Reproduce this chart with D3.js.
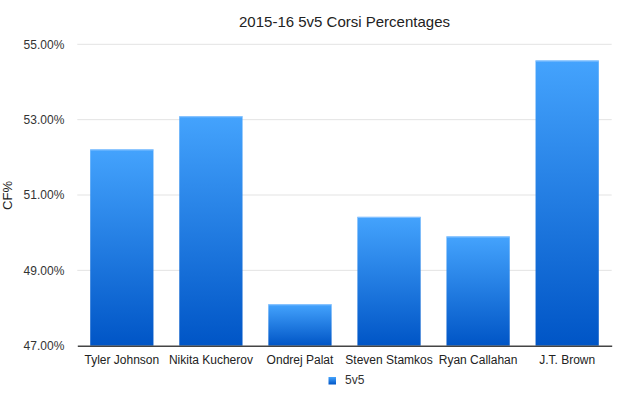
<!DOCTYPE html>
<html>
<head>
<meta charset="utf-8">
<script src="https://cdn.jsdelivr.net/npm/d3@7"></script>
<style>
  html, body { margin: 0; padding: 0; background: #fff; }
  svg { display: block; font-family: "Liberation Sans", Arial, Helvetica, sans-serif; }
</style>
</head>
<body>
<svg id="chart" width="640" height="405"></svg>
<script>
// data
const players = ['Tyler Johnson', 'Nikita Kucherov', 'Ondrej Palat', 'Steven Stamkos', 'Ryan Callahan', 'J.T. Brown'];
const cfPct = [52.21, 53.09, 48.10, 50.42, 49.90, 54.57];
const yTicks = [47, 49, 51, 53, 55];
const seriesName = '5v5';
const chartTitle = '2015-16 5v5 Corsi Percentages';
const yTitle = 'CF%';

const svg = d3.select('#chart');
const plotLeft = 77.3, plotRight = 611.7, plotTop = 44.3, plotBottom = 345.7;

const x = d3.scaleBand()
    .domain(players)
    .range([plotLeft, plotRight])
    .paddingInner(0.29)
    .paddingOuter(0.145);

const y = d3.scaleLinear()
    .domain([47, 55])
    .range([plotBottom, plotTop]);

// gradient for the bars, light at the top, dark at the base
const defs = svg.append('defs');
const grad = defs.append('linearGradient')
    .attr('id', 'barGrad')
    .attr('x1', 0).attr('y1', 0).attr('x2', 0).attr('y2', 1);
grad.append('stop').attr('offset', '0%').attr('stop-color', '#44a3fd');
grad.append('stop').attr('offset', '100%').attr('stop-color', '#0055c6');

// title
svg.append('text')
    .attr('x', (plotLeft + plotRight) / 2)
    .attr('y', 27)
    .attr('text-anchor', 'middle')
    .style('font-size', '15px')
    .style('fill', '#222')
    .text(chartTitle);

// grid lines
svg.append('g')
    .selectAll('line')
    .data(yTicks.filter(d => d !== 47))
    .join('line')
    .attr('x1', plotLeft).attr('x2', plotRight)
    .attr('y1', d => y(d)).attr('y2', d => y(d))
    .attr('stroke', '#e3e3e3')
    .attr('stroke-width', 1);

// y axis labels
const yAxis = d3.axisLeft(y)
    .tickValues(yTicks)
    .tickSize(0)
    .tickPadding(13)
    .tickFormat(d => d3.format('.2f')(d) + '%');

svg.append('g')
    .attr('transform', `translate(${plotLeft},0)`)
    .call(yAxis)
    .call(g => g.select('.domain').remove())
    .call(g => g.selectAll('text')
        .style('font-size', '12px')
        .style('font-family', '"Liberation Sans", Arial, sans-serif')
        .attr('fill', '#333'));

// y title
svg.append('text')
    .attr('transform', 'translate(11.5,195.5) rotate(-90)')
    .attr('text-anchor', 'middle')
    .style('font-size', '13px')
    .style('fill', '#222')
    .text(yTitle);

// bars
const bars = svg.append('g');
bars.selectAll('rect')
    .data(cfPct)
    .join('rect')
    .attr('x', (d, i) => x(players[i]))
    .attr('y', d => y(d))
    .attr('width', x.bandwidth())
    .attr('height', d => y(47) - y(d))
    .attr('fill', 'url(#barGrad)');

// faint highlight at the top of each bar
bars.selectAll('line')
    .data(cfPct)
    .join('line')
    .attr('x1', (d, i) => x(players[i]))
    .attr('x2', (d, i) => x(players[i]) + x.bandwidth())
    .attr('y1', d => y(d) + 0.5)
    .attr('y2', d => y(d) + 0.5)
    .attr('stroke', '#8ec6ff')
    .attr('stroke-width', 1);

// x axis
const xAxis = d3.axisBottom(x).tickSize(0).tickPadding(10);
svg.append('g')
    .attr('transform', `translate(0,${plotBottom})`)
    .call(xAxis)
    .call(g => g.select('.domain').attr('stroke', '#444').attr('stroke-width', 1.4))
    .call(g => g.selectAll('text')
        .style('font-size', '12px')
        .style('font-family', '"Liberation Sans", Arial, sans-serif')
        .attr('fill', '#222'));

// legend
const legend = svg.append('g').attr('transform', 'translate(328.5,377)');
legend.append('rect')
    .attr('width', 7.5).attr('height', 7.5)
    .attr('fill', 'url(#barGrad)');
legend.append('text')
    .attr('x', 16.5)
    .attr('y', 7.3)
    .style('font-size', '12px')
    .style('fill', '#333')
    .text(seriesName);
</script>
</body>
</html>
